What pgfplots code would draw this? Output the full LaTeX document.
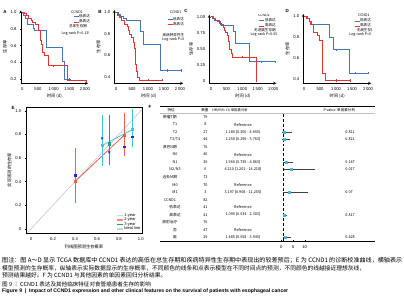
\documentclass[border=0pt]{standalone}
\usepackage{pgfplots}
\pgfplotsset{compat=1.18}
\usepackage{fontspec}
\setmainfont{Liberation Sans}
\newfontfamily\cjk{Noto Sans CJK SC}
\definecolor{kmblue}{RGB}{70,118,178}
\definecolor{kmred}{RGB}{230,50,50}
\definecolor{kmlblue}{RGB}{165,195,228}
\definecolor{kmpink}{RGB}{246,165,165}
\definecolor{cone}{RGB}{70,195,225}
\definecolor{conel}{RGB}{175,228,240}
\definecolor{ctwo}{RGB}{238,95,78}
\definecolor{cthree}{RGB}{28,160,135}
\definecolor{cobs}{RGB}{35,35,225}
\definecolor{fcyan}{RGB}{70,182,220}
\newcommand\tkf{\fontsize{4.2}{5}\selectfont}
\newcommand\lgf{\cjk\fontsize{3.6}{4.2}\selectfont}
\newcommand\tbf{\cjk\fontsize{3.8}{4.5}\selectfont}
\pgfplotsset{
  base/.style={scale only axis, anchor=south west,
    axis line style={-, line width=0.4pt},
    every tick/.style={black, line width=0.3pt},
    tick align=outside, major tick length=1.3bp,
    tick label style={font=\tkf},
    /pgf/number format/assume math mode=true,
    label style={font=\cjk\fontsize{4.3}{5}\selectfont},
  },
  km/.style={base, axis lines=left, xmax=2100,
    xtick={0,500,1000,1500,2000}, xticklabels={0,500,1\,000,1\,500,2\,000},
    xlabel={时间 (d)}, ylabel={生存率},
    xlabel style={yshift=3bp}, ylabel style={yshift=-3bp},
    legend style={draw=none, fill=none, inner sep=0pt, font=\lgf, row sep=0.2bp, nodes={inner sep=0.3bp}},
    legend cell align=left,
    legend image code/.code={\draw[##1, line width=0.6pt] (0bp,0bp) -- (5bp,0bp);},
    every axis plot/.append style={line width=0.6pt, const plot},
  },
}
\begin{document}
\begin{tikzpicture}[x=1bp,y=1bp]
\useasboundingbox (0,0) rectangle (404,300);

% ---------------- A
\begin{axis}[km, at={(20.7bp,216.7bp)}, width=67.4bp, height=72.9bp, xmin=-50, ymin=0.15, ymax=1.02,
  ytick={0.2,0.4,0.6,0.8,1.0}, yticklabels={0.2,0.4,0.6,0.8,1.0},
  legend style={at={(rel axis cs:0.776,0.95)}, anchor=north west}]
\addplot[kmblue] coordinates {(0,1.0) (40,0.96) (90,0.92) (150,0.85) (340,0.81) (380,0.78) (780,0.58) (1280,0.41) (1330,0.2) (1550,0.2)};
\addlegendentry{低表达}
\addplot[kmred] coordinates {(0,1.0) (60,0.98) (130,0.96) (200,0.93) (280,0.9) (330,0.88) (420,0.85) (520,0.78) (560,0.66) (600,0.62) (640,0.52) (690,0.48) (820,0.36) (1440,0.18) (2050,0.18)};
\addlegendentry{高表达}
\addplot[kmred, only marks, mark=|, mark size=1.2bp, forget plot] coordinates {(980,0.36) (2050,0.18)};
\addplot[kmblue, only marks, mark=|, mark size=1.2bp, forget plot] coordinates {(1500,0.2)};
\node[font=\lgf] at (rel axis cs:0.835,0.982) {CCND1};
\node[font=\lgf] at (rel axis cs:0.85,0.786) {总体生存期};
\node[font=\lgf] at (rel axis cs:0.82,0.68) {Log-rank P=0.135};
\end{axis}

% ---------------- B
\begin{axis}[km, at={(114.3bp,216.7bp)}, width=68.9bp, height=73.4bp, xmin=-53, ymin=0.34, ymax=1.02,
  ytick={0.4,0.6,0.8,1.0}, yticklabels={0.4,0.6,0.8,1.0},
  legend style={at={(rel axis cs:0.765,0.91)}, anchor=north west}]
\addplot[kmblue] coordinates {(0,1) (60,0.98) (120,0.96) (230,0.94) (330,0.925) (770,0.82) (850,0.70) (1370,0.46) (2050,0.46)};
\addlegendentry{低表达}
\addplot[kmred] coordinates {(0,1) (50,0.97) (100,0.95) (170,0.92) (250,0.89) (350,0.87) (380,0.83) (420,0.79) (480,0.77) (530,0.72) (560,0.66) (590,0.6) (610,0.52) (640,0.45) (680,0.40) (720,0.37) (1460,0.37)};
\addlegendentry{高表达}
\addplot[kmred, only marks, mark=|, mark size=1.2bp, forget plot] coordinates {(1010,0.37) (1460,0.37)};
\addplot[kmblue, only marks, mark=|, mark size=1.2bp, forget plot] coordinates {(1600,0.46) (2050,0.46)};
\node[font=\lgf] at (rel axis cs:0.89,0.975) {CCND1};
\node[font=\lgf] at (rel axis cs:0.91,0.662) {疾病特异性生存期};
\node[font=\lgf] at (rel axis cs:0.905,0.59) {Log-rank P=0.002};
\end{axis}

% ---------------- C
\begin{axis}[km, at={(209.3bp,216.7bp)}, width=67.1bp, height=68.5bp, xmin=-55, ymin=-0.036, ymax=1.03,
  ytick={0,0.25,0.5,0.75,1}, yticklabels={0,0.25,0.50,0.75,1.00},
  legend style={at={(rel axis cs:0.74,0.953)}, anchor=north west}]
\addplot[kmblue] coordinates {(0,1) (50,0.97) (120,0.95) (200,0.93) (300,0.88) (380,0.86) (720,0.77) (790,0.58) (1230,0.30) (2050,0.30)};
\addlegendentry{低表达}
\addplot[kmred] coordinates {(0,1) (60,0.97) (150,0.94) (250,0.9) (320,0.86) (380,0.83) (420,0.79) (460,0.76) (520,0.71) (560,0.62) (590,0.50) (640,0.43) (690,0.37) (1440,0) (1445,0)};
\addlegendentry{高表达}
\addplot[kmblue, only marks, mark=|, mark size=1.2bp, forget plot] coordinates {(1600,0.30) (2050,0.30)};
\addplot[kmred, only marks, mark=|, mark size=1.2bp, forget plot] coordinates {(1000,0.37)};
\node[font=\lgf] at (rel axis cs:0.757,1.07) {疾病类型：食管};
\node[font=\lgf] at (rel axis cs:0.815,0.997) {CCND1};
\node[font=\lgf] at (rel axis cs:0.83,0.78) {无进展生存期};
\node[font=\lgf] at (rel axis cs:0.83,0.715) {Log-rank P=0.058};
\end{axis}

% ---------------- D
\begin{axis}[km, at={(303.3bp,216.7bp)}, width=67.9bp, height=69.4bp, xmin=-22, ymin=0.362, ymax=1.02,
  ytick={0.4,0.6,0.8,1.0}, yticklabels={0.4,0.6,0.8,1.0},
  legend style={at={(rel axis cs:0.747,0.94)}, anchor=north west}]
\addplot[kmblue] coordinates {(0,1) (100,0.98) (170,0.95) (240,0.925) (800,0.80) (900,0.68) (1420,0.46) (2010,0.46)};
\addlegendentry{低表达}
\addplot[kmred] coordinates {(0,1) (60,0.98) (150,0.95) (190,0.92) (290,0.85) (420,0.82) (470,0.77) (575,0.46) (670,0.39) (1450,0.39)};
\addlegendentry{高表达}
\addplot[kmblue, only marks, mark=|, mark size=1.2bp, forget plot] coordinates {(1000,0.68) (1600,0.46) (2010,0.46)};
\addplot[kmred, only marks, mark=|, mark size=1.2bp, forget plot] coordinates {(1000,0.39) (1450,0.39)};
\node[font=\lgf] at (rel axis cs:0.86,1.056) {疾病类型：食管};
\node[font=\lgf] at (rel axis cs:0.89,0.984) {CCND1};
\node[font=\lgf] at (rel axis cs:0.92,0.768) {无病生存期};
\node[font=\lgf] at (rel axis cs:0.89,0.706) {Log-rank P=0.115};
\end{axis}

% ---------------- E
\begin{axis}[base, at={(26bp,67bp)}, width=116bp, height=126bp,
  xmin=-0.045, xmax=1.01, ymin=-0.035, ymax=1.031,
  xtick={0,0.2,0.4,0.6,0.8,1}, xticklabels={0,0.2,0.4,0.6,0.8,1.0},
  ytick={0,0.2,0.4,0.6,0.8,1}, yticklabels={0,0.2,0.4,0.6,0.8,1.0},
  xtick pos=bottom, ytick pos=left,
  xlabel={列线图预测生存概率}, ylabel={实际观测的生存率},
  xlabel style={yshift=3bp}, ylabel style={yshift=-3bp},
  axis line style={line width=0.5pt},
  legend style={at={(rel axis cs:0.99,0.01)}, anchor=south east, draw=none, fill=none, inner sep=0pt, font=\fontsize{4}{4.6}\selectfont, row sep=-0.4bp, nodes={inner sep=0.3bp}},
  legend cell align=left,
  legend image code/.code={\draw[#1, line width=1.2pt] (0bp,0bp) -- (6bp,0bp);}]
\addplot[gray!45, line width=0.6pt, forget plot] coordinates {(-0.045,-0.045) (1.01,1.01)};
\addplot[cone, line width=0.8pt, forget plot] coordinates {(0.648,0.706) (0.924,0.84)};
\addplot[ctwo, line width=0.8pt, forget plot] coordinates {(0.4,0.4) (0.845,0.79)};
\addplot[ctwo, only marks, mark=square*, mark size=1.1pt, forget plot, error bars/.cd, y dir=both, y explicit, error bar style={line width=0.6pt}, error mark options={mark size=1.3pt, line width=0.6pt}]
  coordinates {(0.4,0.4) += (0,0.276) -= (0,0.17) (0.845,0.79) += (0,0.18) -= (0,0.16)};
\addplot[cone, only marks, mark=square*, mark size=1.1pt, forget plot, error bars/.cd, y dir=both, y explicit, error bar style={line width=0.6pt}, error mark options={mark size=1.3pt, line width=0.6pt}]
  coordinates {(0.648,0.706) += (0,0.244) -= (0,0.166) (0.924,0.84) += (0,0.16) -= (0,0.14)};
\addplot[cthree, only marks, mark=square*, mark size=1.1pt, forget plot, error bars/.cd, y dir=both, y explicit, error bar style={line width=0.6pt}, error mark options={mark size=1.3pt, line width=0.6pt}]
  coordinates {(0.712,0.72) += (0,0.23) -= (0,0.17)};
\addplot[cobs, only marks, mark=square*, mark size=0.9pt, forget plot] coordinates {(0.4,0.456) (0.845,0.695) (0.924,0.78)};
\addplot[cobs, only marks, mark=x, mark size=1.4pt, line width=0.6pt, forget plot] coordinates {(0.648,0.766) (0.712,0.648)};
\addlegendimage{conel}\addlegendentry{1-year}
\addlegendimage{ctwo!75}\addlegendentry{2-year}
\addlegendimage{cthree}\addlegendentry{3-year}
\addlegendimage{gray!35}\addlegendentry{Ideal line}
\end{axis}

% ---------------- F
\begin{axis}[base, at={(160bp,59bp)}, width=215bp, height=135bp,
  xmin=-51.6, xmax=39.9, ymin=-17.49, ymax=0.463,
  axis x line=bottom, axis y line=none, xtick={0,5,10}, xticklabels={0,5,10},
  axis line style={-, line width=0.6pt}, clip=false,
  error bars/error bar style={black!75, line width=0.5pt}]
\draw[line width=0.6pt] (axis cs:-51.6,0.463) -- (axis cs:39.9,0.463);
\draw[gray!50, line width=0.8pt] (axis cs:-51.6,-0.55) -- (axis cs:39.9,-0.55);
\draw[densely dashed, line width=0.4pt] (axis cs:1,-0.55) -- (axis cs:1,-17.49);
\addplot[only marks, mark=square*, mark size=1.0pt, fcyan, error bars/.cd, x dir=both, x explicit, error mark=none]
 coordinates {(1.180,-3) += (3.475,0) -= (0.880,0)
              (1.250,-4) += (2.513,0) -= (0.954,0)
              (1.960,-7) += (2.903,0) -= (1.225,0)
              (4.210,-8) += (10.008,0) -= (3.009,0)
              (3.197,-11) += (8.058,0) -= (2.289,0)
              (1.095,-14) += (1.208,0) -= (0.561,0)
              (1.485,-17) += (2.460,0) -= (0.927,0)};
% header
\node[font=\cjk\fontsize{3.6}{4}\selectfont, anchor=west] at (axis cs:-49.9,-0.07) {特征};
\node[font=\cjk\fontsize{3.6}{4}\selectfont] at (axis cs:-32.5,-0.07) {数量};
\node[font=\cjk\fontsize{3.4}{4}\selectfont, anchor=west] at (axis cs:-30.8,-0.07) {HR(95\% CI) 单因素分析};
\node[font=\cjk\fontsize{3.6}{4}\selectfont, anchor=west] at (axis cs:16.5,-0.07) {P value\ \ 单因素分析};
% names
\node[font=\tbf] at (axis cs:-47.4,-1) {肿瘤T期};
\node[font=\tbf] at (axis cs:-45.2,-2) {T1};
\node[font=\tbf] at (axis cs:-45.2,-3) {T2};
\node[font=\tbf] at (axis cs:-45.2,-4) {T3/T4};
\node[font=\tbf] at (axis cs:-47.4,-5) {淋巴N期};
\node[font=\tbf] at (axis cs:-45.2,-6) {N0};
\node[font=\tbf] at (axis cs:-45.2,-7) {N1};
\node[font=\tbf] at (axis cs:-45.2,-8) {N2/N3};
\node[font=\tbf] at (axis cs:-47.4,-9) {远处M期};
\node[font=\tbf] at (axis cs:-45.2,-10) {M0};
\node[font=\tbf] at (axis cs:-45.2,-11) {M1};
\node[font=\tbf] at (axis cs:-47.4,-12) {CCND1};
\node[font=\tbf] at (axis cs:-45.2,-13) {低表达};
\node[font=\tbf] at (axis cs:-45.2,-14) {高表达};
\node[font=\tbf] at (axis cs:-47.4,-15) {放射治疗};
\node[font=\tbf] at (axis cs:-45.2,-16) {否};
\node[font=\tbf] at (axis cs:-45.2,-17) {是};
% counts
\node[font=\tbf] at (axis cs:-32.3,-1) {79};
\node[font=\tbf] at (axis cs:-32.3,-2) {8};
\node[font=\tbf] at (axis cs:-32.3,-3) {27};
\node[font=\tbf] at (axis cs:-32.3,-4) {44};
\node[font=\tbf] at (axis cs:-32.3,-5) {76};
\node[font=\tbf] at (axis cs:-32.3,-6) {40};
\node[font=\tbf] at (axis cs:-32.3,-7) {30};
\node[font=\tbf] at (axis cs:-32.3,-8) {6};
\node[font=\tbf] at (axis cs:-32.3,-9) {73};
\node[font=\tbf] at (axis cs:-32.3,-10) {70};
\node[font=\tbf] at (axis cs:-32.3,-11) {3};
\node[font=\tbf] at (axis cs:-32.3,-12) {82};
\node[font=\tbf] at (axis cs:-32.3,-13) {41};
\node[font=\tbf] at (axis cs:-32.3,-14) {41};
\node[font=\tbf] at (axis cs:-32.3,-15) {76};
\node[font=\tbf] at (axis cs:-32.3,-16) {47};
\node[font=\tbf] at (axis cs:-32.3,-17) {29};
% HR
\node[font=\tbf] at (axis cs:-16.3,-2) {Reference};
\node[font=\tbf] at (axis cs:-16.3,-3) {1.180 (0.300 - 4.655)};
\node[font=\tbf] at (axis cs:-16.3,-4) {1.250 (0.296 - 3.763)};
\node[font=\tbf] at (axis cs:-16.3,-6) {Reference};
\node[font=\tbf] at (axis cs:-16.3,-7) {1.960 (0.735 - 4.863)};
\node[font=\tbf] at (axis cs:-16.3,-8) {4.210 (1.201 - 14.218)};
\node[font=\tbf] at (axis cs:-16.3,-10) {Reference};
\node[font=\tbf] at (axis cs:-16.3,-11) {3.197 (0.908 - 11.255)};
\node[font=\tbf] at (axis cs:-16.3,-13) {Reference};
\node[font=\tbf] at (axis cs:-16.3,-14) {1.095 (0.534 - 2.303)};
\node[font=\tbf] at (axis cs:-16.3,-16) {Reference};
\node[font=\tbf] at (axis cs:-16.3,-17) {1.485 (0.558 - 3.945)};
% P
\node[font=\tbf, anchor=west] at (axis cs:25.8,-3) {0.811};
\node[font=\tbf, anchor=west] at (axis cs:25.8,-4) {0.821};
\node[font=\tbf, anchor=west] at (axis cs:25.8,-7) {0.147};
\node[font=\tbf, anchor=west] at (axis cs:25.8,-8) {0.017};
\node[font=\tbf, anchor=west] at (axis cs:25.8,-11) {0.07};
\node[font=\tbf, anchor=west] at (axis cs:25.8,-14) {0.817};
\node[font=\tbf, anchor=west] at (axis cs:25.8,-17) {0.428};
\end{axis}

% panel letters
\node[font=\bfseries\fontsize{4.5}{5}\selectfont] at (5,288.3) {A};
\node[font=\bfseries\fontsize{4.5}{5}\selectfont] at (100,288.3) {B};
\node[font=\bfseries\fontsize{4.5}{5}\selectfont] at (186,289.3) {C};
\node[font=\bfseries\fontsize{4.5}{5}\selectfont] at (287.3,289.3) {D};
\node[font=\bfseries\fontsize{4.5}{5}\selectfont] at (13,192) {E};
\node[font=\bfseries\fontsize{4.5}{5}\selectfont] at (150,193) {F};

% caption
\node[anchor=west, inner sep=0pt] at (2,40) {\resizebox{400bp}{!}{\cjk\fontsize{6}{7}\selectfont 图注：图 A～D 显示 TCGA 数据库中 CCND1 表达的高低在总生存期和疾病特异性生存期中表现出的较差预后；E 为 CCND1 的诊断校准曲线，横轴表示}};
\node[anchor=west, inner sep=0pt] at (2,31.7) {\resizebox{363bp}{!}{\cjk\fontsize{6}{7}\selectfont 模型预测的生存概率，纵轴表示实际数据显示的生存概率，不同颜色的线条和点表示模型在不同时间点的预测，不同颜色的线越接近理想灰线，}};
\node[anchor=west, inner sep=0pt] at (2,24.3) {\cjk\fontsize{5.8}{7}\selectfont 预测结果越好。F 为 CCND1 与其他因素的单因素回归分析结果。};
\node[anchor=west, inner sep=0pt] at (2,15.7) {\cjk\fontsize{5.6}{7}\selectfont 图 9 ｜ CCND1 表达及其他临床特征对食管癌患者生存的影响};
\node[anchor=west, inner sep=0pt] at (2,9) {\resizebox{286bp}{!}{\bfseries\fontsize{5}{6}\selectfont Figure 9 \ |\ \ Impact of CCND1 expression and other clinical features on the survival of patients with esophageal cancer}};
\end{tikzpicture}
\end{document}
